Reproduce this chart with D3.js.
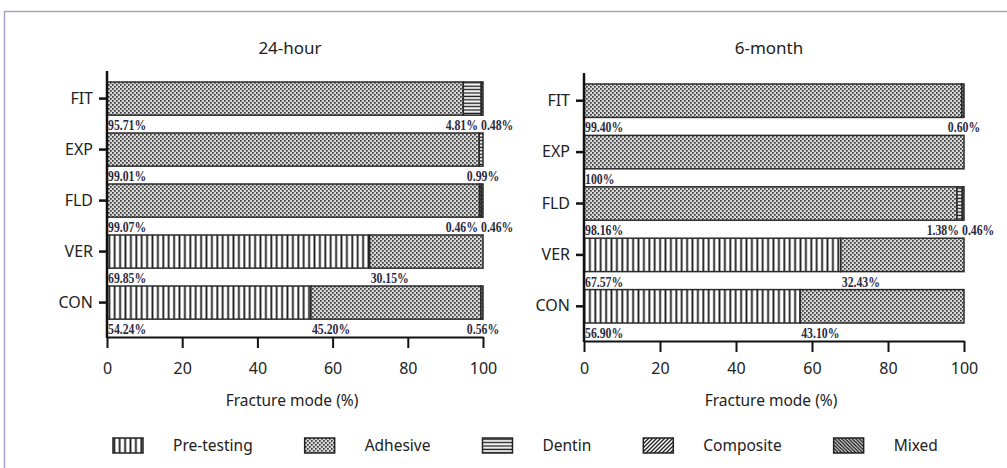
<!DOCTYPE html>
<html>
<head>
<meta charset="utf-8">
<script src="https://cdn.jsdelivr.net/npm/d3@7"></script>
<style>
  html, body { margin: 0; padding: 0; background: #fff; }
  svg { display: block; }
</style>
</head>
<body>
<svg id="chart" width="1007" height="468"></svg>
<script>
// categories and fracture modes
const categories = ["FIT", "EXP", "FLD", "VER", "CON"];
const modes = ["Pre-testing", "Adhesive", "Dentin", "Composite", "Mixed"];
const xTicks = [0, 20, 40, 60, 80, 100];

// 24-hour (%)
const preTesting24h = [0, 0, 0, 69.85, 54.24];
const adhesive24h   = [95.71, 99.01, 99.07, 30.15, 45.20];
const dentin24h     = [4.81, 0.99, 0, 0, 0];
const composite24h  = [0, 0, 0.46, 0, 0];
const mixed24h      = [0.48, 0, 0.46, 0, 0.56];

// 6-month (%)
const preTesting6m = [0, 0, 0, 67.57, 56.90];
const adhesive6m   = [99.40, 100, 98.16, 32.43, 43.10];
const dentin6m     = [0, 0, 1.38, 0, 0];
const composite6m  = [0, 0, 0, 0, 0];
const mixed6m      = [0.60, 0, 0.46, 0, 0];

var svg = d3.select("#chart");

// frame
svg.append("path")
    .attr("d", "M4.5,468V11.5H1007")
    .attr("fill", "none")
    .attr("stroke", "#a4a4c6")
    .attr("stroke-width", 1.5);

// patterns
var defs = svg.append("defs");
function pattern(id, w, h, build) {
    var p = defs.append("pattern")
        .attr("id", id)
        .attr("patternUnits", "userSpaceOnUse")
        .attr("width", w).attr("height", h);
    build(p);
}
pattern("p-pre", 5.4, 10, p => {
    p.append("rect").attr("width", 5.4).attr("height", 10).attr("fill", "#fff");
    p.append("rect").attr("x", 0.4).attr("width", 1.8).attr("height", 10).attr("fill", "#1a1a1a");
});
pattern("p-adh", 4, 4, p => {
    p.append("rect").attr("width", 4).attr("height", 4).attr("fill", "#d8d8d8");
    p.append("rect").attr("x", 0).attr("y", 0).attr("width", 1.7).attr("height", 1.7).attr("fill", "#3a3a3a");
    p.append("rect").attr("x", 2).attr("y", 2).attr("width", 1.7).attr("height", 1.7).attr("fill", "#3a3a3a");
});
pattern("p-den", 10, 3.4, p => {
    p.append("rect").attr("width", 10).attr("height", 3.4).attr("fill", "#fff");
    p.append("rect").attr("y", 0.5).attr("width", 10).attr("height", 1.4).attr("fill", "#1e1e1e");
});
pattern("p-com", 4, 4, p => {
    p.append("rect").attr("width", 4).attr("height", 4).attr("fill", "#fff");
    p.append("path").attr("d", "M-1,1L1,-1M0,4L4,0M3,5L5,3").attr("stroke", "#1e1e1e").attr("stroke-width", 1.3);
});
pattern("p-mix", 3.5, 3.5, p => {
    p.append("rect").attr("width", 3.5).attr("height", 3.5).attr("fill", "#fff");
    p.append("path").attr("d", "M-1,2.5L1,4.5M0,0L3.5,3.5M2.5,-1L4.5,1").attr("stroke", "#1e1e1e").attr("stroke-width", 1.5);
});
var fills = {
    "Pre-testing": "url(#p-pre)",
    "Adhesive": "url(#p-adh)",
    "Dentin": "url(#p-den)",
    "Composite": "url(#p-com)",
    "Mixed": "url(#p-mix)"
};

function rows(series) {
    return categories.map((c, i) => {
        var r = {cat: c};
        modes.forEach((m, j) => r[m] = series[j][i]);
        return r;
    });
}

var panels = [
    {title: "24-hour", x0: 107, x1: 483, y0: 82, y1: 337,
     data: rows([preTesting24h, adhesive24h, dentin24h, composite24h, mixed24h])},
    {title: "6-month", x0: 584, x1: 964, y0: 84, y1: 341,
     data: rows([preTesting6m, adhesive6m, dentin6m, composite6m, mixed6m])}
];

var fmt = v => v === 100 ? "100%" : v.toFixed(2) + "%";

panels.forEach(pn => {
    var x = d3.scaleLinear().domain([0, 100]).range([pn.x0, pn.x1]);
    var y = d3.scaleBand().domain(categories).range([pn.y0, pn.y1]);
    var barH = y.bandwidth() * 0.65;
    var g = svg.append("g");

    var stacked = d3.stack().keys(modes).offset(d3.stackOffsetExpand)(pn.data);

    // bars
    stacked.forEach(layer => {
        g.selectAll(null)
            .data(layer.filter(d => d.data[layer.key] > 0))
            .enter().append("rect")
            .attr("x", d => x(d[0] * 100))
            .attr("y", d => y(d.data.cat))
            .attr("width", d => x(d[1] * 100) - x(d[0] * 100))
            .attr("height", barH)
            .attr("fill", fills[layer.key])
            .attr("stroke", "#2a2a2a")
            .attr("stroke-width", 1.5);
    });

    // value labels under each bar (condensed bold serif)
    pn.data.forEach((row, i) => {
        var segs = [];
        stacked.forEach(layer => {
            var v = row[layer.key];
            if (v > 0) segs.push({v: v, start: layer[i][0] * 100});
        });
        var tails = segs.filter(s => s.v < 10);
        segs.forEach(s => {
            var lx, anchor;
            if (s.v >= 10) { lx = x(s.start) + 1; anchor = "start"; }
            else if (tails.length === 1) { lx = x(100); anchor = "middle"; }
            else if (tails.indexOf(s) === 0) { lx = x(100) - 5; anchor = "end"; }
            else { lx = x(100) - 2; anchor = "start"; }
            g.append("text")
                .attr("transform", `translate(${lx},${y(row.cat) + barH + 15}) scale(0.76,1)`)
                .attr("text-anchor", anchor)
                .attr("font-family", "'Liberation Serif', 'Times New Roman', serif")
                .attr("font-weight", "bold")
                .attr("font-size", 15.5)
                .attr("fill", "#2b2a42")
                .text(fmt(s.v));
        });
    });

    // x axis
    var xAxis = g.append("g")
        .attr("transform", `translate(0,${pn.y1})`)
        .call(d3.axisBottom(x).tickValues(xTicks).tickSize(11).tickSizeOuter(0));
    xAxis.select(".domain").attr("stroke", "#111").attr("stroke-width", 2);
    xAxis.selectAll(".tick line").attr("stroke", "#111").attr("stroke-width", 2);
    xAxis.selectAll(".tick text")
        .attr("y", 374 - pn.y1).attr("dy", 0)
        .attr("font-family", "'Noto Sans', sans-serif")
        .attr("font-size", 16)
        .attr("fill", "#222");

    // y axis
    var yAxis = g.append("g")
        .attr("transform", `translate(${pn.x0},0)`)
        .call(d3.axisLeft(y).tickSize(8).tickSizeOuter(0).tickPadding(6));
    yAxis.select(".domain").remove();
    yAxis.selectAll(".tick")
        .attr("transform", d => `translate(0,${y(d) + barH / 2})`);
    yAxis.selectAll(".tick line").attr("stroke", "#111").attr("stroke-width", 2.5);
    yAxis.selectAll(".tick text")
        .attr("font-family", "'Noto Sans', sans-serif")
        .attr("font-size", 16)
        .attr("fill", "#222");
    g.append("line")
        .attr("x1", pn.x0).attr("x2", pn.x0)
        .attr("y1", pn.y0 - 11).attr("y2", pn.y1 + 1)
        .attr("stroke", "#111").attr("stroke-width", 2.5);

    // title and axis label
    g.append("text")
        .attr("x", (pn.x0 + pn.x1) / 2 - 5)
        .attr("y", 54)
        .attr("text-anchor", "middle")
        .attr("font-family", "'Noto Sans', sans-serif")
        .attr("font-size", 17)
        .attr("fill", "#222")
        .text(pn.title);
    g.append("text")
        .attr("x", (pn.x0 + pn.x1) / 2 - 3)
        .attr("y", 406)
        .attr("text-anchor", "middle")
        .attr("font-family", "'Noto Sans', sans-serif")
        .attr("font-size", 15.5)
        .attr("fill", "#222")
        .text("Fracture mode (%)");
});

// legend
var legend = svg.append("g").attr("transform", "translate(113,438)");
var lx = 0;
modes.forEach(m => {
    legend.append("rect")
        .attr("x", lx).attr("y", 0)
        .attr("width", 30).attr("height", 15)
        .attr("fill", fills[m])
        .attr("stroke", "#222").attr("stroke-width", 1.5);
    var t = legend.append("text")
        .attr("x", lx + 60).attr("y", 13)
        .attr("font-family", "'Noto Sans', sans-serif")
        .attr("font-size", 15.5)
        .attr("fill", "#222")
        .text(m);
    lx += 60 + t.node().getComputedTextLength() + 52;
});
</script>
</body>
</html>
